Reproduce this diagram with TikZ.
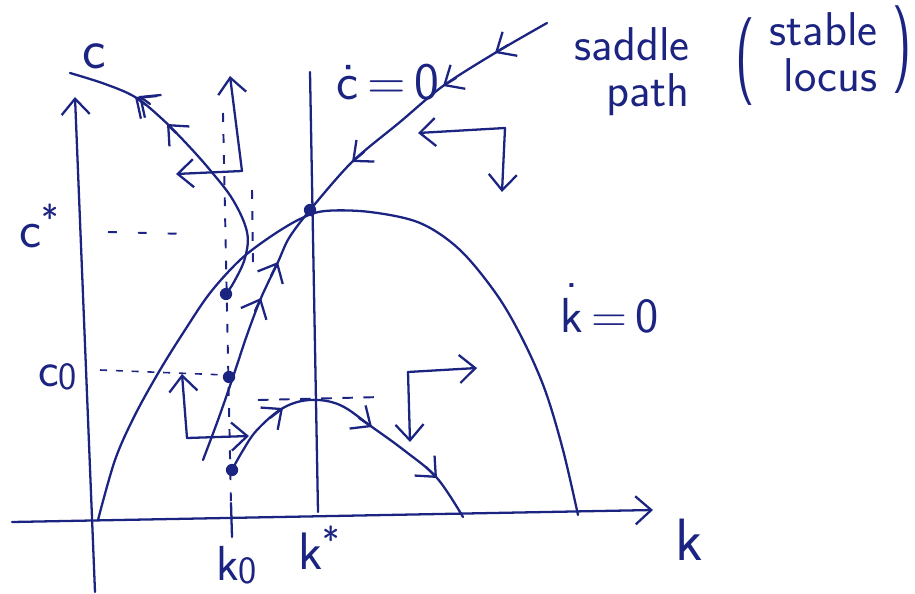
\documentclass[tikz,border=0pt]{standalone}
\usetikzlibrary{arrows.meta}
\definecolor{ink}{RGB}{28,36,130}
\begin{document}
\begin{tikzpicture}[x=0.02cm,y=-0.02cm,
  ln/.style={draw=ink, line width=1.3pt, line cap=round, line join=round},
  barb/.style={ln, -{Straight Barb[length=9pt,width=16pt]}},
  dsh/.style={draw=ink, line width=1.1pt, dash pattern=on 5pt off 7pt},
  lab/.style={text=ink, inner sep=0pt, font=\sffamily\fontsize{30}{32}\selectfont},
  dotn/.style={circle, fill=ink, inner sep=0pt, minimum size=7pt}]
\useasboundingbox (0,0) rectangle (915,594);

% axes
\draw[barb] (95,592) -- (75,97);
\draw[barb] (12,522) -- (653,510);
\draw[ln] (231,503) -- (232,537);

% k-dot = 0 locus
\draw[ln] plot[smooth, tension=0.55] coordinates {(98,520) (115,460) (135,415) (160,370) (185,330) (210,293) (240,260) (270,237) (300,219) (325,211) (370,212) (420,223) (460,250) (497,295) (523,340) (545,390) (563,450) (578,515)};

% c-dot = 0 locus
\draw[ln] (310,72) -- (318,512);

% dashed guides
\draw[dsh] (223,113) -- (231,505);
\draw[dsh] (252,190) -- (253,263);
\draw[draw=ink, line width=1.1pt, dash pattern=on 5pt off 12pt] (108,232) -- (188,234);
\draw[draw=ink, line width=0.9pt, dash pattern=on 4pt off 5pt] (100,370) -- (226,375);
\draw[draw=ink, line width=1.1pt, dash pattern=on 6pt off 6pt] (258,400) -- (382,397);

% saddle path
\draw[ln] plot[smooth, tension=0.5] coordinates {(547,23) (495,53) (443,86) (400,122) (352,162) (310,210) (289,238) (278,262) (261,298) (247,335) (233,377) (218,420) (203,460)};
\draw[barb] (508,45) -- (495,53);
\draw[barb] (456,78) -- (443,86);
\draw[barb] (364,152) -- (352,162);
\draw[barb] (271,276) -- (278,262);
\draw[barb] (255,311) -- (261,298);

% upper diverging trajectory
\draw[ln] plot[smooth, tension=0.6] coordinates {(226,294) (234,282) (245,258) (247,232) (233,200) (210,170) (185,142) (160,117) (135,97) (105,84) (70,73)};
\draw[barb] (146,105) -- (135,97);
\draw[barb] (150,104) -- (139,96);
\draw[barb] (176,133) -- (167,124);

% lower diverging trajectory
\draw[ln] plot[smooth, tension=0.6] coordinates {(232,470) (242,452) (257,430) (283,408) (310,400) (340,405) (372,427) (405,451) (437,478) (463,517)};
\draw[barb] (270,418) -- (283,408);
\draw[barb] (359,418) -- (372,427);
\draw[barb] (426,467) -- (437,478);

% direction arrows
\draw[barb] (242,171) -- (230,76);
\draw[barb] (242,171) -- (176,174);
\draw[barb] (505,128) -- (418,133);
\draw[barb] (505,128) -- (502,192);
\draw[barb] (187,438) -- (182,374);
\draw[barb] (187,438) -- (249,436);
\draw[barb] (408,372) -- (477,368);
\draw[barb] (408,372) -- (410,442);

% points
\node[dotn] (ss) at (310,210) {};
\node[dotn] (p1) at (226,294) {};
\node[dotn] (p2) at (229,377) {};
\node[dotn] (p3) at (232,470) {};

% labels
\node[lab, font=\sffamily\fontsize{32}{34}\selectfont] (clab) at (94,56) {c};
\node[lab, font=\sffamily\fontsize{34}{36}\selectfont] (klab) at (689,540) {k};
\node[lab] (kstar) at (320,548) {k\textsuperscript{*}};
\node[lab, anchor=base west, font=\sffamily\fontsize{28}{30}\selectfont] (kzero) at (216,580) {k\raisebox{-2pt}{\fontsize{22}{22}\selectfont 0}};
\node[lab] (cstar) at (40,226) {c\textsuperscript{*}};
\node[lab, anchor=base west, font=\sffamily\fontsize{28}{30}\selectfont] (czero) at (38,386) {c\raisebox{-2pt}{\fontsize{22}{22}\selectfont 0}};
\node[lab, anchor=base west] (cdot) at (336,100) {\.{c}\,=\,0};
\node[lab, anchor=base west, font=\sffamily\fontsize{28}{30}\selectfont] (kdot) at (560,332) {\shortstack{.\\[3pt]k}\,=\,0};
\node[lab, anchor=east, align=right, font=\sffamily\fontsize{27}{26}\selectfont] (sad) at (690,72) {saddle\\path};
\node[lab, anchor=east, align=right, font=\sffamily\fontsize{27}{26}\selectfont] (stb) at (878,52) {stable\\locus};
\node[lab] (lpar) at (745,62) {\scalebox{0.6}[1]{\fontsize{50}{50}\selectfont (}};
\node[lab] (rpar) at (902,50) {\scalebox{0.6}[1]{\fontsize{50}{50}\selectfont )}};
\end{tikzpicture}
\end{document}
